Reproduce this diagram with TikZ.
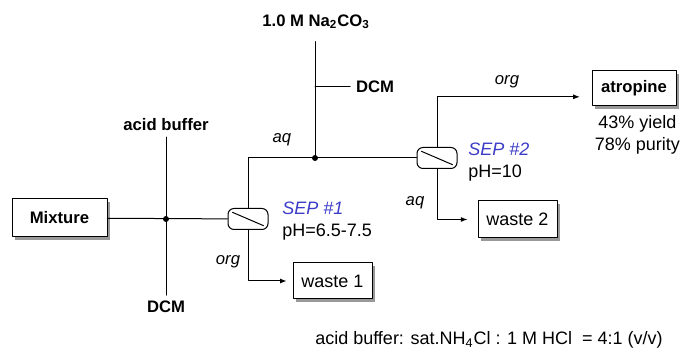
\documentclass[tikz,border=0pt]{standalone}
\usepackage{fontspec}
\setmainfont{Liberation Sans}
\usetikzlibrary{arrows.meta,calc,positioning,shadows}
\definecolor{sepblue}{RGB}{60,60,200}
\tikzset{
  every picture/.append style={line cap=round,line join=round},
  flow line/.style={line width=0.6pt},
  flow arrow/.style={line width=0.6pt,-{Latex[length=4pt,width=3pt]}},
  flow box/.style={draw,line width=0.6pt,fill=white,minimum height=21.6pt,
    drop shadow={shadow xshift=1.6pt,shadow yshift=-1.6pt,fill=black!40,opacity=1}},
  flow sep/.style={draw,line width=0.6pt,fill=white,rounded corners=3.6pt,
    minimum width=24pt,minimum height=12.6pt,inner sep=0pt},
  flow feed/.style={font=\bfseries},
  flow stream/.style={font=\itshape},
  flow sep label/.style={align=left,anchor=west,inner sep=0pt}
}

\begin{document}
\begin{tikzpicture}[x=0.6pt,y=-0.6pt,font=\fontsize{10.8}{13.2}\selectfont]
  \useasboundingbox (0,0) rectangle (681,352);
  % feed and first separation
  \node[flow box,flow feed,minimum width=57pt,minimum height=22.8pt] (mix) at (59.5,218) {Mixture};
  \node[flow feed] (ab) at (166,125) {acid buffer};
  \node[flow feed] (dcm1) at (166,307) {DCM};
  \coordinate (j1) at (166,219);
  \node[flow sep] (sep1) at (248,219) {};
  \draw[flow line] ([shift={(3pt,-2.6pt)}]sep1.north west) -- ([shift={(-3pt,2.6pt)}]sep1.south east);
  \node[flow sep label] (sep1lab) at (282,221) {\textcolor{sepblue}{\itshape SEP \#1}\\pH=6.5-7.5};
  \node[flow box,minimum width=47.4pt] (w1) at (332.5,281) {waste 1};
  \draw[flow line] (mix) -- (sep1);
  \draw[flow line] (ab.south) -- (dcm1.north);
  \fill (j1) circle (1.8pt);
  \draw[flow arrow,shorten >=3.5pt] (sep1.south) |- (w1.west);
  \node[flow stream] (org1) at (228,262) {org};
  % base wash and second separation
  \node[flow sep] (sep2) at (437,158) {};
  \draw[flow line] ([shift={(3pt,-2.6pt)}]sep2.north west) -- ([shift={(-3pt,2.6pt)}]sep2.south east);
  \node[flow sep label] (sep2lab) at (468,162) {\textcolor{sepblue}{\itshape SEP \#2}\\pH=10};
  \coordinate (j2) at (315,158);
  \node[flow feed] (na) at (316,22) {1.0 M Na\textsubscript{2}CO\textsubscript{3}};
  \node[flow feed] (dcm2) at (375,87) {DCM};
  \draw[flow line] (sep1.north) |- (sep2.west);
  \draw[flow line] (na.south -| j2) ++(0,-4pt) -- (j2);
  \draw[flow line] (j2 |- dcm2.west) -- (dcm2.west);
  \fill (j2) circle (1.8pt);
  \node[flow stream] (aq1) at (282,140) {aq};
  % products
  \node[flow box,flow feed,minimum width=50.4pt,minimum height=21pt] (atro) at (634,88.5) {atropine};
  \node[align=center,below=2pt of atro,xshift=2pt] (res) {43\% yield\\78\% purity};
  \node[flow box,minimum width=47.4pt,minimum height=22.2pt] (w2) at (517.5,219.5) {waste 2};
  \draw[flow arrow,shorten >=7pt] (sep2.north) |- ([yshift=-5pt]atro.west);
  \draw[flow arrow,shorten >=6pt] (sep2.south) |- (w2.west);
  \node[flow stream] (org2) at (507,82) {org};
  \node[flow stream] (aq2) at (415,203) {aq};
  \node (note) at (489,340) {acid buffer: sat.NH\textsubscript{4}Cl : 1 M HCl\ \ = 4:1 (v/v)};
\end{tikzpicture}
\end{document}
